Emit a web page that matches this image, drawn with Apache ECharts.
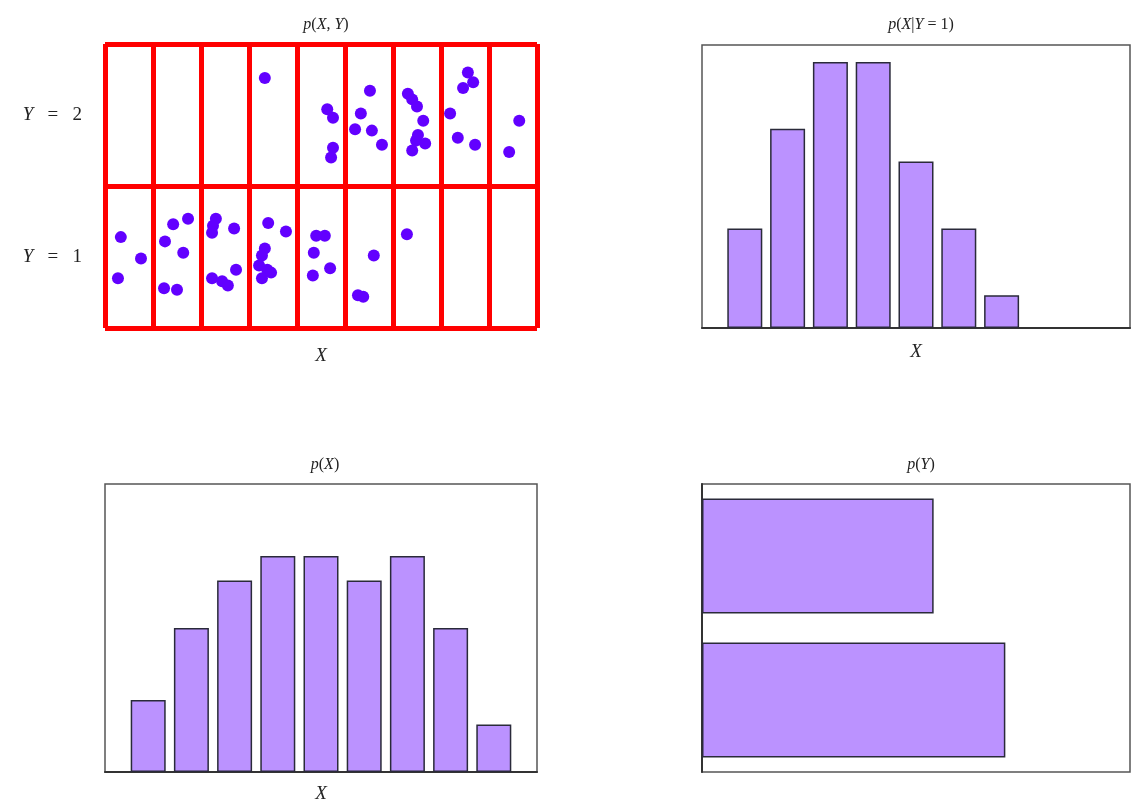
<!DOCTYPE html>
<html>
<head>
<meta charset="utf-8">
<script src="https://cdn.jsdelivr.net/npm/echarts@6/dist/echarts.min.js"></script>
<style>html,body{margin:0;padding:0;background:#fff;}#c{width:1135px;height:810px;}</style>
</head>
<body>
<div id="c"></div>
<script>
// ---- Data ----
// Joint sample points (X in column units 0..9, Y in row units 0..2)
const pointsY2 = [
  [3.33,1.76],
  [4.63,1.54],[4.75,1.48],[4.75,1.27],[4.71,1.20],
  [5.52,1.67],[5.33,1.51],[5.21,1.40],[5.56,1.39],[5.77,1.29],
  [6.31,1.65],[6.40,1.61],[6.50,1.56],[6.63,1.46],[6.52,1.36],[6.48,1.32],[6.67,1.30],[6.40,1.25],
  [7.56,1.80],[7.67,1.73],[7.46,1.69],[7.19,1.51],[7.35,1.34],[7.71,1.29],
  [8.63,1.46],[8.42,1.24]
];
const pointsY1 = [
  [0.33,0.64],[0.75,0.49],[0.27,0.35],
  [1.73,0.77],[1.42,0.73],[1.25,0.61],[1.63,0.53],[1.23,0.28],[1.50,0.27],
  [2.31,0.77],[2.25,0.72],[2.23,0.67],[2.69,0.70],[2.73,0.41],[2.23,0.35],[2.44,0.33],[2.56,0.30],
  [3.40,0.74],[3.77,0.68],[3.33,0.56],[3.27,0.51],[3.21,0.44],[3.38,0.41],[3.46,0.39],[3.27,0.35],
  [4.40,0.65],[4.58,0.65],[4.35,0.53],[4.69,0.42],[4.33,0.37],
  [5.60,0.51],[5.27,0.23],[5.38,0.22],
  [6.29,0.66]
];
const rowLabels = ['Y = 1', 'Y = 2'];
// bins X = 1..9
const xBins = [1,2,3,4,5,6,7,8,9];
const pXgivenY1 = [0.088,0.176,0.235,0.235,0.147,0.088,0.029,0,0];
const pX = [0.050,0.100,0.133,0.150,0.150,0.133,0.150,0.100,0.033];
const yCats = ['1','2'];
const pY = [0.567,0.433];
const titles = ['p(X, Y)', 'p(X|Y = 1)', 'p(X)', 'p(Y)'];

// ---- Styles ----
const serif = 'Liberation Serif, DejaVu Serif, serif';
const barFill = '#bb92ff';
const barEdge = '#2a2a3a';
const dotColor = '#6200ff';
const frame = '#555';

function italicize(s){
  return s.replace(/([A-Za-z])/g, '{i|$1}');
}
const richStyle = {
  i: {fontFamily: serif, fontStyle: 'italic', fontSize: 19, color: '#222'},
  n: {fontFamily: serif, fontSize: 19, color: '#222'}
};

const gridDefs = [
  {left:105, top:44, width:432, height:284},
  {left:702, top:45, width:428, height:283},
  {left:105, top:484, width:432, height:288},
  {left:702, top:484, width:428, height:288}
];
const titleCenters = [[321,12],[916,12],[320,452],[916,452]];

const option = {
  animation: false,
  backgroundColor: '#fff',
  title: titles.map((t, k) => ({
    text: italicize(t),
    left: titleCenters[k][0], top: titleCenters[k][1],
    textAlign: 'center',
    textStyle: {fontFamily: serif, fontSize: 16, fontWeight: 'normal', color: '#222', rich: {
      i: {fontFamily: serif, fontStyle: 'italic', fontSize: 16, color: '#222'}
    }}
  })),
  grid: gridDefs.map((g, k) => Object.assign({}, g, {
    show: true, borderColor: k === 0 ? '#444' : frame, borderWidth: k === 0 ? 1 : 1.5, backgroundColor: '#fff'
  })),
  xAxis: [
    {gridIndex:0, type:'value', min:0, max:9, interval:1,
     name: '{i|X}', nameLocation:'middle', nameGap: 18,
     nameTextStyle: {rich: {i: {fontFamily: serif, fontStyle:'italic', fontSize: 19, color:'#222'}}},
     axisLine:{show:false}, axisTick:{show:false}, axisLabel:{show:false},
     splitLine:{show:true, showMinLine:true, showMaxLine:true, lineStyle:{color:'#ff0000', width:5}}},
    {gridIndex:1, type:'value', min:0, max:10,
     name: '{i|X}', nameLocation:'middle', nameGap: 14,
     nameTextStyle: {rich: {i: {fontFamily: serif, fontStyle:'italic', fontSize: 19, color:'#222'}}},
     axisLine:{show:true, onZero:false, lineStyle:{color:'#333', width:2}}, axisTick:{show:false}, axisLabel:{show:false},
     splitLine:{show:false}},
    {gridIndex:2, type:'value', min:0, max:10,
     name: '{i|X}', nameLocation:'middle', nameGap: 12,
     nameTextStyle: {rich: {i: {fontFamily: serif, fontStyle:'italic', fontSize: 19, color:'#222'}}},
     axisLine:{show:true, onZero:false, lineStyle:{color:'#333', width:2}}, axisTick:{show:false}, axisLabel:{show:false},
     splitLine:{show:false}},
    {gridIndex:3, type:'value', min:0, max:0.8,
     axisLine:{show:false}, axisTick:{show:false}, axisLabel:{show:false}, splitLine:{show:false}}
  ],
  yAxis: [
    {gridIndex:0, type:'value', min:0, max:2, interval:1,
     axisLine:{show:false}, axisTick:{show:false}, axisLabel:{show:false},
     splitLine:{show:true, showMinLine:true, showMaxLine:true, lineStyle:{color:'#ff0000', width:5}}},
    {gridIndex:0, type:'category', data: rowLabels, boundaryGap:true, position:'left', offset:0,
     axisLine:{show:false}, axisTick:{show:false}, splitLine:{show:false},
     axisLabel:{show:true, margin: 23,
       formatter: v => {
         const parts = v.split(' ');
         return '{i|' + parts[0] + '}{n|   ' + parts[1] + '   ' + parts[2] + '}';
       },
       rich: richStyle}},
    {gridIndex:1, type:'value', min:0, max:0.25,
     axisLine:{show:false}, axisTick:{show:false}, axisLabel:{show:false}, splitLine:{show:false}},
    {gridIndex:2, type:'value', min:0, max:0.2,
     axisLine:{show:false}, axisTick:{show:false}, axisLabel:{show:false}, splitLine:{show:false}},
    {gridIndex:3, type:'category', data: yCats, boundaryGap:true,
     axisLine:{show:true, lineStyle:{color:'#333', width:2}}, axisTick:{show:false}, axisLabel:{show:false}, splitLine:{show:false}}
  ],
  series: [
    {type:'scatter', xAxisIndex:0, yAxisIndex:0, data: pointsY2, symbolSize: 12,
     itemStyle:{color: dotColor, opacity: 1}, z: 5},
    {type:'scatter', xAxisIndex:0, yAxisIndex:0, data: pointsY1, symbolSize: 12,
     itemStyle:{color: dotColor, opacity: 1}, z: 5},
    {type:'bar', xAxisIndex:1, yAxisIndex:2, barWidth: 35,
     data: xBins.map((x, k) => [x, pXgivenY1[k]]).filter(d => d[1] > 0),
     itemStyle:{color: barFill, borderColor: barEdge, borderWidth: 1.5}},
    {type:'bar', xAxisIndex:2, yAxisIndex:3, barWidth: 35,
     data: xBins.map((x, k) => [x, pX[k]]),
     itemStyle:{color: barFill, borderColor: barEdge, borderWidth: 1.5}},
    {type:'bar', xAxisIndex:3, yAxisIndex:4, barWidth: '80%',
     data: pY,
     itemStyle:{color: barFill, borderColor: barEdge, borderWidth: 1.5}}
  ]
};

const chart = echarts.init(document.getElementById('c'), null, {renderer:'canvas'});
chart.setOption(option);
</script>
</body>
</html>
